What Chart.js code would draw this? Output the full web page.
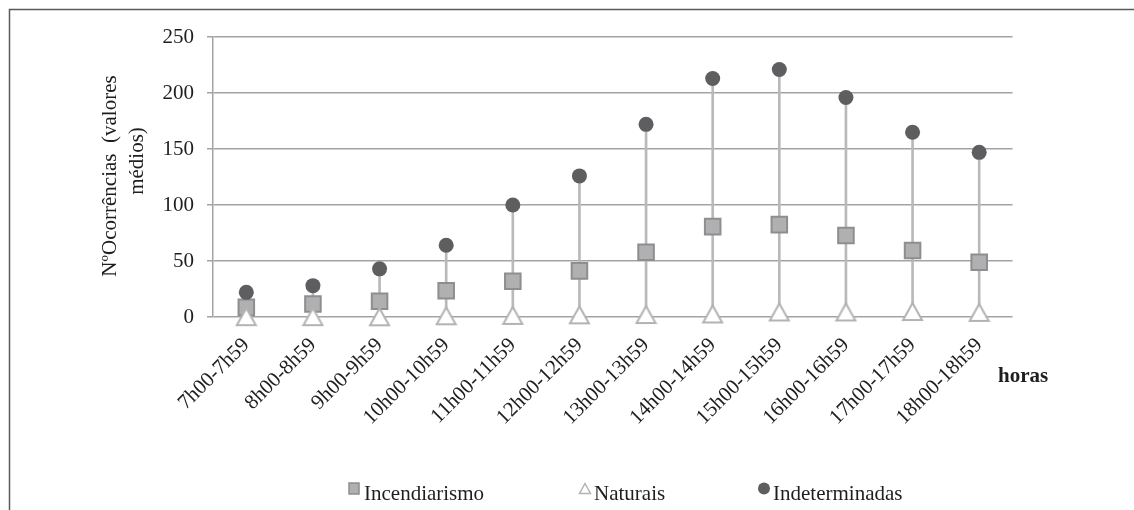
<!DOCTYPE html>
<html>
<head>
<meta charset="utf-8">
<script src="https://cdn.jsdelivr.net/npm/chart.js@4.4.1/dist/chart.umd.min.js"></script>
<style>
  html, body { margin: 0; padding: 0; background: #fff; }
  #wrap { position: relative; width: 1134px; height: 510px; }
</style>
</head>
<body>
<div id="wrap"><canvas id="chart" width="1134" height="510"></canvas></div>
<script>
// data (valores médios por hora)
const horas = ['7h00-7h59', '8h00-8h59', '9h00-9h59', '10h00-10h59', '11h00-11h59', '12h00-12h59',
  '13h00-13h59', '14h00-14h59', '15h00-15h59', '16h00-16h59', '17h00-17h59', '18h00-18h59'];
const incendiarismo = [8.6, 11.6, 14, 23.4, 32, 41.2, 57.8, 80.7, 82.5, 72.7, 59.3, 48.8];
const naturais = [0.3, 0.3, 0.2, 1.1, 1.4, 1.9, 2.2, 2.7, 4.5, 4.5, 4.9, 4.1];
const indeterminadas = [22, 28, 43, 64, 100, 126, 172, 213, 221, 196, 165, 147];
const yTicks = [0, 50, 100, 150, 200, 250];
const yTitle = ['NºOcorrências  (valores', 'médios)'];

const FONT = "'Liberation Serif', 'Times New Roman', serif";
const TXT = '#1e1e1e';
const GRID = '#a3a3a3';

// high-low line for each hour, from lowest to highest series
const highLow = horas.map((_, i) => {
  const v = [incendiarismo[i], naturais[i], indeterminadas[i]];
  return [Math.min(...v), Math.max(...v)];
});

// triangle marker centred on its box, like the spreadsheet one
function triangleMarker(w, h, lw) {
  const c = document.createElement('canvas');
  c.width = w + lw * 2;
  c.height = h + lw * 2;
  const g = c.getContext('2d');
  g.beginPath();
  g.moveTo(c.width / 2, lw);
  g.lineTo(c.width - lw, c.height - lw);
  g.lineTo(lw, c.height - lw);
  g.closePath();
  g.fillStyle = '#ffffff';
  g.fill();
  g.lineWidth = lw;
  g.strokeStyle = '#b3b3b3';
  g.stroke();
  return c;
}
const triBig = triangleMarker(19, 17, 2);

function rotatedText(ctx, text, x, y) {
  ctx.save();
  ctx.translate(x, y);
  ctx.rotate(-Math.PI / 2);
  ctx.fillText(text, 0, 0);
  ctx.restore();
}

const extras = {
  id: 'extras',
  afterDraw(chart) {
    const ctx = chart.ctx;
    ctx.save();
    // outer frame (right and bottom edges fall outside the crop)
    ctx.strokeStyle = '#5a5a5a';
    ctx.lineWidth = 1.5;
    ctx.strokeRect(9.5, 9.5, 1300, 700);

    // y axis title, two lines as wrapped in the original
    ctx.fillStyle = TXT;
    ctx.font = '21px ' + FONT;
    ctx.textAlign = 'center';
    ctx.textBaseline = 'middle';
    rotatedText(ctx, yTitle[0], 110.5, 176);
    rotatedText(ctx, yTitle[1], 137.8, 161);

    // axis name on the right
    ctx.font = 'bold 21px ' + FONT;
    ctx.textBaseline = 'alphabetic';
    ctx.textAlign = 'left';
    ctx.fillText('horas', 998, 382);

    // legend
    const ly = 500;
    ctx.font = '21px ' + FONT;
    ctx.fillStyle = '#b0b0b2';
    ctx.strokeStyle = '#8e8e8e';
    ctx.lineWidth = 1.5;
    ctx.fillRect(349, 483, 10, 11);
    ctx.strokeRect(349, 483, 10, 11);
    ctx.fillStyle = TXT;
    ctx.fillText('Incendiarismo', 364, ly);

    ctx.beginPath();
    ctx.moveTo(585, 483.5);
    ctx.lineTo(590.5, 493.5);
    ctx.lineTo(579.5, 493.5);
    ctx.closePath();
    ctx.fillStyle = '#fff';
    ctx.fill();
    ctx.strokeStyle = '#b3b3b3';
    ctx.lineWidth = 1.5;
    ctx.stroke();
    ctx.fillStyle = TXT;
    ctx.fillText('Naturais', 594, ly);

    ctx.beginPath();
    ctx.arc(764, 488.5, 6, 0, Math.PI * 2);
    ctx.fillStyle = '#5e5e60';
    ctx.fill();
    ctx.fillStyle = TXT;
    ctx.fillText('Indeterminadas', 773, ly);
    ctx.restore();
  }
};

new Chart(document.getElementById('chart'), {
  type: 'line',
  data: {
    labels: horas,
    datasets: [
      {
        type: 'bar',
        label: 'high-low',
        data: highLow,
        backgroundColor: '#b9b9b9',
        borderWidth: 0,
        barThickness: 2,
        order: 10
      },
      {
        label: 'Incendiarismo',
        data: incendiarismo,
        showLine: false,
        pointStyle: 'rect',
        pointRadius: 11,
        pointBackgroundColor: '#b0b0b2',
        pointBorderColor: '#8e8e8e',
        pointBorderWidth: 2,
        clip: false,
        order: 3
      },
      {
        label: 'Naturais',
        data: naturais,
        showLine: false,
        pointStyle: triBig,
        clip: false,
        order: 1
      },
      {
        label: 'Indeterminadas',
        data: indeterminadas,
        showLine: false,
        pointStyle: 'circle',
        pointRadius: 7.5,
        pointBackgroundColor: '#5e5e60',
        pointBorderColor: '#5e5e60',
        pointBorderWidth: 0,
        clip: false,
        order: 2
      }
    ]
  },
  options: {
    responsive: false,
    animation: false,
    events: [],
    layout: { padding: { left: 97, top: 37, right: 121.5, bottom: 0 } },
    plugins: { legend: { display: false }, tooltip: { enabled: false } },
    scales: {
      x: {
        offset: true,
        grid: { display: false, drawTicks: false, tickLength: 0 },
        border: { display: false },
        ticks: {
          autoSkip: false,
          maxRotation: 45,
          minRotation: 45,
          padding: 16,
          color: TXT,
          font: { family: FONT, size: 21 }
        },
        afterFit(scale) { scale.height = 193; }
      },
      y: {
        min: 0,
        max: 250,
        afterBuildTicks(scale) { scale.ticks = yTicks.map(v => ({ value: v })); },
        grid: { color: GRID, lineWidth: 1.5, tickLength: 6 },
        border: { display: true, color: GRID, width: 1.5 },
        ticks: { padding: 13, color: TXT, font: { family: FONT, size: 21 } },
        afterFit(scale) { scale.width = 116; }
      }
    }
  },
  plugins: [extras]
});
</script>
</body>
</html>
